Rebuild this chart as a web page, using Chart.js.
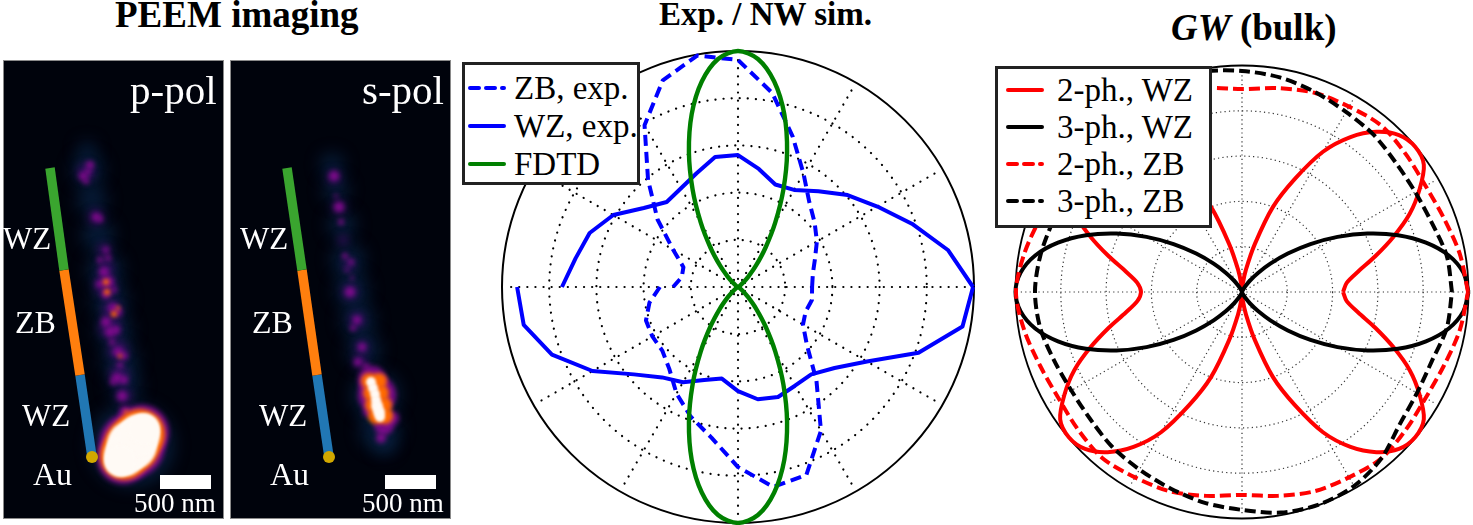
<!DOCTYPE html>
<html>
<head>
<meta charset="utf-8">
<style>
  html, body { margin: 0; padding: 0; background: #fff; }
  body { width: 1473px; height: 525px; position: relative; overflow: hidden; font-family: "Liberation Serif", serif; }
  canvas { position: absolute; }
  .txt { position: absolute; white-space: nowrap; line-height: 1; transform: translateY(-50%); }
  .white { color: #fff; }
  .title { font-weight: bold; color: #000; }
  .legend { position: absolute; background: #fff; border: 3px solid #222; box-sizing: border-box; }
  .legend div { position: absolute; white-space: nowrap; line-height: 1; color: #000; transform: translateY(-50%); }
  .legend svg { position: absolute; }
</style>
</head>
<body>

<canvas id="peemP" width="221" height="459" style="left:3px;top:60px"></canvas>
<canvas id="peemS" width="221" height="459" style="left:230px;top:60px"></canvas>
<canvas id="expPolar" width="480" height="480" style="left:498px;top:47px"></canvas>
<canvas id="gwPolar" width="470" height="470" style="left:1007px;top:56.5px"></canvas>

<div class="txt title" style="left:115px;top:14px;font-size:37px">PEEM imaging</div>
<div class="txt title" style="left:659px;top:14px;font-size:33px">Exp. / NW sim.</div>
<div class="txt title" style="left:1171px;top:27px;font-size:37px"><i>GW</i> (bulk)</div>

<div class="txt white" style="left:130px;top:90px;font-size:41px">p-pol</div>
<div class="txt white" style="left:362px;top:90px;font-size:41px">s-pol</div>
<div class="txt white" style="left:3px;top:238px;font-size:31px">WZ</div>
<div class="txt white" style="left:15px;top:322px;font-size:32px">ZB</div>
<div class="txt white" style="left:22px;top:415px;font-size:31px">WZ</div>
<div class="txt white" style="left:33px;top:474px;font-size:32px">Au</div>
<div class="txt white" style="left:240px;top:238px;font-size:31px">WZ</div>
<div class="txt white" style="left:252px;top:322px;font-size:32px">ZB</div>
<div class="txt white" style="left:259px;top:415px;font-size:31px">WZ</div>
<div class="txt white" style="left:270px;top:474px;font-size:32px">Au</div>
<div class="txt white" style="left:134px;top:503px;font-size:27px">500 nm</div>
<div class="txt white" style="left:362px;top:503px;font-size:27px">500 nm</div>

<div id="legendExp" class="legend" style="left:462px;top:62px;width:178px;height:123px"></div>
<div id="legendGw" class="legend" style="left:995px;top:66px;width:217px;height:162px"></div>

<script src="https://cdn.jsdelivr.net/npm/chart.js@4/dist/chart.umd.min.js"></script>
<script>
// polar data, angle in degrees, radius as fraction of the outer circle
const upperAngles = [0,10,20,30,40,50,60,70,80,90,100,110,120,130,140,150,160,170,180];
const lowerAngles = [180,190,200,210,220,230,240,250,260,270,280,290,300,310,320,330,340,350,360];
const fullAngles10 = upperAngles.concat(lowerAngles.slice(1));
const fullAngles5 = [0,5,10,15,20,25,30,35,40,45,50,55,60,65,70,75,80,85,90,95,100,105,110,115,120,125,130,135,140,145,150,155,160,165,170,175,180,
  185,190,195,200,205,210,215,220,225,230,235,240,245,250,255,260,265,270,275,280,285,290,295,300,305,310,315,320,325,330,335,340,345,350,355,360];

const zbExpUpper = [.314,.322,.347,.386,.424,.470,.555,.678,.835,.962,.996,.932,.792,.593,.445,.318,.246,.242,.275];
const zbExpLower = [.331,.381,.415,.419,.419,.453,.521,.585,.648,.763,.860,.847,.703,.517,.381,.318,.305,.318,.314];
const wzExpUpper = [.996,.903,.784,.682,.606,.530,.475,.462,.508,.559,.559,.513,.483,.470,.521,.610,.669,.699,.746];
const wzExpLower = [.936,.922,.839,.712,.576,.500,.466,.419,.394,.441,.483,.496,.483,.483,.534,.631,.814,.966,.996];
const fdtd = [0,0,0,0,0,.001,.004,.012,.029,.062,.119,.203,.316,.455,.608,.758,.884,.970,1,
  .970,.884,.758,.608,.455,.316,.203,.119,.062,.029,.012,.004,.001,0,0,0,0,0,
  0,0,0,0,.001,.004,.012,.029,.062,.119,.203,.316,.455,.608,.758,.884,.970,1,
  .970,.884,.758,.608,.455,.316,.203,.119,.062,.029,.012,.004,.001,0,0,0,0,0];

const twoPhWz = [.446,.464,.521,.609,.711,.817,.905,.980,.998,.980,.923,.835,.715,.550,.400,.220,.100,.035,0,
  .035,.100,.220,.400,.550,.715,.835,.923,.980,.998,.980,.905,.817,.711,.609,.521,.464,.446,
  .464,.521,.609,.711,.817,.905,.980,.998,.980,.923,.835,.715,.550,.400,.220,.100,.035,0,
  .035,.100,.220,.400,.550,.715,.835,.923,.980,.998,.980,.905,.817,.711,.609,.521,.464,.446];
const threePhWz = [1,.981,.927,.841,.733,.611,.487,.369,.264,.177,.110,.062,.031,.014,.005,.001,0,0,0,
  0,0,.001,.005,.014,.031,.062,.110,.177,.264,.369,.487,.611,.733,.841,.927,.981,1,
  .981,.927,.841,.733,.611,.487,.369,.264,.177,.110,.062,.031,.014,.005,.001,0,0,0,
  0,0,.001,.005,.014,.031,.062,.110,.177,.264,.369,.487,.611,.733,.841,.927,.981,1];
const twoPhZb = [.998,.976,.949,.936,.945,.958,.945,.936,.914,.896,.914,.936,.945,.958,.945,.936,.949,.976,.998,
  .976,.949,.936,.945,.958,.945,.936,.914,.896,.914,.936,.945,.958,.945,.936,.949,.976,.998];
const threePhZb = [.927,.918,.892,.883,.887,.905,.918,.940,.962,.976,.989,.998,.989,.958,.909,.892,.892,.905,.914,
  .905,.883,.870,.874,.892,.905,.923,.945,.962,.989,.998,.989,.958,.909,.892,.892,.918,.927];

const expLabels = ['ZB, exp.', 'WZ, exp.', 'FDTD'];
const gwLabels = ['2-ph., WZ', '3-ph., WZ', '2-ph., ZB', '3-ph., ZB'];
const ringRadii = [.2, .4, .6, .8];
const spokeAngles = [0,30,60,90,120,150,180,210,240,270,300,330];

// PEEM images: spots as [x, y, size] in image pixels
const wireP = [[50,168],[64,270],[80,375],[92,457]];
const wireS = [[287,168],[302,270],[317,375],[329,457]];
const goldP = [[92,457]];
const goldS = [[329,457]];
const barP = [[160,482],[211,482]];
const barS = [[385,482],[436,482]];

const haloP = [[88,170,16],[92,200,15],[98,235,16],[105,270,18],[110,300,18],[114,330,18],[120,360,18],[125,385,16],[132,445,42],[87,150,9]];
const dimP = [[86,172,9],[96,217,8],[104,250,7],[106,268,8],[105,285,11],[112,310,10],[110,328,11],[118,350,10],[119,375,10],[124,396,8]];
const purpleP = [[83,176,4],[90,165,4],[86,181,3],[88,172,3],[96,217,4],[100,219,3],[106,250,3],[100,260,3],[108,258,3],
  [104,272,5],[100,284,4],[108,282,6],[106,294,5],[114,290,3],[113,308,5],[118,312,4],[106,322,5],[110,332,5],[116,330,4],[112,342,3],
  [118,352,5],[124,356,4],[120,365,3],[117,378,5],[124,380,4],[113,382,3],[122,396,5],[132,445,33],[123,458,26],[142,432,27],[125,412,6]];
const orangeP = [[106,282,3],[107,292,3],[114,314,3],[118,308,2],[120,356,2],[132,445,28],[124,456,24],[140,434,25],[126,412,2]];
const whiteP = [[132,445,25],[125,455,21],[139,435,21],[120,461,16],[144,429,16]];

const haloS = [[332,165,12],[336,190,13],[342,225,14],[348,260,17],[352,290,17],[358,320,17],[364,350,17],[376,395,24],[380,430,20],[385,445,10]];
const dimS = [[334,177,7],[339,207,7],[343,240,5],[349,265,6],[350,292,8],[357,320,8],[362,347,7],[360,362,7]];
const purpleS = [[334,176,5],[339,207,5],[341,222,3],[336,196,2],[345,256,3],[351,262,3],[347,270,2],[352,278,2],[350,292,5],[357,320,4],[353,328,3],[362,347,4],[358,362,4],[366,366,3],
  [377,395,19],[372,380,14],[384,425,10],[381,438,5],[392,418,7],[368,412,5]];
const orangeS = [[369,381,8],[379,381,8],[371,393,8],[381,393,8],[373,405,8],[384,405,8],[376,416,8],[385,416,8]];
const whiteS = [[371,382,5],[373,388,5],[375,394,5],[376,400,5],[377,406,6],[379,412,6],[380,417,5]];

function polarPoints(angles, radii) {
  return radii.map((r, i) => ({
    x: r * Math.cos(angles[i] * Math.PI / 180),
    y: r * Math.sin(angles[i] * Math.PI / 180)
  }));
}

function curve(angles, radii, color, width, dash, order) {
  return {
    type: 'scatter', showLine: true, data: polarPoints(angles, radii),
    borderColor: color, borderWidth: width, borderDash: dash || [], pointRadius: 0,
    tension: 0, fill: false, order: order, clip: false, borderJoinStyle: 'round'
  };
}

const polarGrid = {
  id: 'polarGrid',
  beforeDatasetsDraw(chart, args, opts) {
    const ctx = chart.ctx, xs = chart.scales.x, ys = chart.scales.y;
    const cx = xs.getPixelForValue(0), cy = ys.getPixelForValue(0);
    const unit = xs.getPixelForValue(1) - cx;
    ctx.save();
    ctx.strokeStyle = opts.color;
    ctx.lineWidth = opts.width;
    ctx.lineCap = opts.cap;
    ctx.setLineDash(opts.dash);
    ringRadii.forEach(r => {
      ctx.beginPath();
      ctx.arc(cx, cy, r * unit, 0, Math.PI * 2);
      ctx.stroke();
    });
    spokeAngles.forEach(a => {
      ctx.beginPath();
      ctx.moveTo(cx, cy);
      ctx.lineTo(xs.getPixelForValue(opts.spokeEnd * Math.cos(a * Math.PI / 180)), ys.getPixelForValue(opts.spokeEnd * Math.sin(a * Math.PI / 180)));
      ctx.stroke();
    });
    ctx.setLineDash([]);
    ctx.lineCap = 'butt';
    ctx.lineWidth = opts.frame;
    ctx.strokeStyle = '#000';
    ctx.beginPath();
    ctx.arc(cx, cy, unit, 0, Math.PI * 2);
    ctx.stroke();
    ctx.restore();
  }
};

function polarChart(id, datasets, extent, grid) {
  return new Chart(document.getElementById(id), {
    type: 'scatter',
    data: { datasets: datasets },
    options: {
      responsive: false, animation: false, events: [],
      layout: { padding: 0, autoPadding: false },
      plugins: { legend: { display: false }, tooltip: { enabled: false }, polarGrid: grid },
      scales: {
        x: { type: 'linear', display: false, min: -extent, max: extent },
        y: { type: 'linear', display: false, min: -extent, max: extent }
      }
    },
    plugins: [polarGrid]
  });
}

polarChart('expPolar', [
  curve(upperAngles, zbExpUpper, '#0000ff', 4, [11, 6], 5),
  curve(lowerAngles, zbExpLower, '#0000ff', 4, [11, 6], 5),
  curve(upperAngles, wzExpUpper, '#0000ff', 4, [], 3),
  curve(lowerAngles, wzExpLower, '#0000ff', 4, [], 3),
  Object.assign(curve(fullAngles5, fdtd, '#008000', 4.4, [], 1), { tension: 0.3 })
], 240 / 236, { color: '#000', width: 2.2, cap: 'round', dash: [0.1, 8], spokeEnd: .975, frame: 2 });

polarChart('gwPolar', [
  Object.assign(curve(fullAngles5, twoPhWz, '#ff0000', 4, [], 4), { tension: 0.3 }),
  Object.assign(curve(fullAngles5, threePhWz, '#000000', 4, [], 3), { tension: 0.3 }),
  Object.assign(curve(fullAngles10, twoPhZb, '#ff0000', 4, [11, 5], 2), { tension: 0.3 }),
  Object.assign(curve(fullAngles10, threePhZb, '#000000', 4, [11, 5], 1), { tension: 0.3 })
], 235 / 226.5, { color: '#333', width: 1.2, cap: 'butt', dash: [1.2, 3.2], spokeEnd: .985, frame: 1.8 });

// blurred spots are the image, the wire and scale bar stay sharp
const blurSpots = {
  id: 'blurSpots',
  beforeDatasetDraw(chart, args) {
    const blur = chart.data.datasets[args.index].blur;
    if (blur) { chart.ctx.save(); chart.ctx.filter = 'blur(' + blur + 'px)'; }
  },
  afterDatasetDraw(chart, args) {
    if (chart.data.datasets[args.index].blur) chart.ctx.restore();
  },
  beforeDraw(chart) {
    const a = chart.chartArea;
    chart.ctx.fillStyle = '#00030c';
    chart.ctx.fillRect(a.left, a.top, a.width, a.height);
  },
  afterDraw(chart) {
    const a = chart.chartArea;
    chart.ctx.strokeStyle = '#8a8a8a';
    chart.ctx.lineWidth = 2;
    chart.ctx.strokeRect(a.left, a.top, a.width, a.height);
  }
};

function spots(list, color, blur, order) {
  return {
    type: 'bubble', data: list.map(p => ({ x: p[0], y: p[1], r: p[2] })),
    backgroundColor: color, borderWidth: 0, blur: blur, order: order
  };
}

function segment(a, b, color) {
  return {
    type: 'scatter', showLine: true, data: [{ x: a[0], y: a[1] }, { x: b[0], y: b[1] }],
    borderColor: color, borderWidth: 9.5, pointRadius: 0, order: 3
  };
}

function peemChart(id, xmin, wire, gold, bar, halo, dim, purple, orange, white) {
  return new Chart(document.getElementById(id), {
    data: {
      datasets: [
        spots(halo, 'rgba(12,50,95,0.5)', 8, 11),
        spots(dim, 'rgba(75,12,120,0.6)', 4, 10),
        spots(purple, 'rgba(135,10,145,0.9)', 2.5, 9),
        spots(orange, '#ff6a00', 2, 8),
        spots(white, '#fffaf5', 1.5, 7),
        segment(wire[0], wire[1], '#3aa52f'),
        segment(wire[1], wire[2], '#ff7f0e'),
        segment(wire[2], wire[3], '#2177b4'),
        { type: 'scatter', data: gold.map(p => ({ x: p[0], y: p[1] })), pointRadius: 6, backgroundColor: '#d2a800', borderWidth: 0, order: 1 },
        { type: 'scatter', showLine: true, data: bar.map(p => ({ x: p[0], y: p[1] })), borderColor: '#fff', borderWidth: 14, pointRadius: 0, order: 2 }
      ]
    },
    options: {
      responsive: false, animation: false, events: [],
      layout: { padding: 0, autoPadding: false },
      plugins: { legend: { display: false }, tooltip: { enabled: false } },
      scales: {
        x: { type: 'linear', display: false, min: xmin, max: xmin + 221 },
        y: { type: 'linear', display: false, min: 60, max: 519, reverse: true }
      }
    },
    plugins: [blurSpots]
  });
}

peemChart('peemP', 3, wireP, goldP, barP, haloP, dimP, purpleP, orangeP, whiteP);
peemChart('peemS', 230, wireS, goldS, barS, haloS, dimS, purpleS, orangeS, whiteS);

// legends
function buildLegend(id, labels, colors, dashes, firstY, stepY, lineX, lineLen, textX, fontSize) {
  const box = document.getElementById(id);
  labels.forEach((label, i) => {
    const y = firstY + i * stepY;
    const svg = '<svg width="' + lineLen + '" height="8" style="left:' + lineX + 'px;top:' + (y - 4) + 'px">' +
      '<line x1="2" y1="4" x2="' + (lineLen - 2) + '" y2="4" stroke="' + colors[i] + '" stroke-width="4" stroke-linecap="round"' +
      (dashes[i] ? ' stroke-dasharray="' + dashes[i] + '"' : '') + '/></svg>';
    box.insertAdjacentHTML('beforeend', svg + '<div style="left:' + textX + 'px;top:' + y + 'px;font-size:' + fontSize + 'px">' + label + '</div>');
  });
}
buildLegend('legendExp', expLabels, ['#0000ff', '#0000ff', '#008000'], ['9 7', '', ''], 23, 38, 3, 38, 49, 33);
buildLegend('legendGw', gwLabels, ['#ff0000', '#000000', '#ff0000', '#000000'], ['', '', '9 7', '9 7'], 21, 37, 8, 38, 59, 33);
</script>
</body>
</html>
